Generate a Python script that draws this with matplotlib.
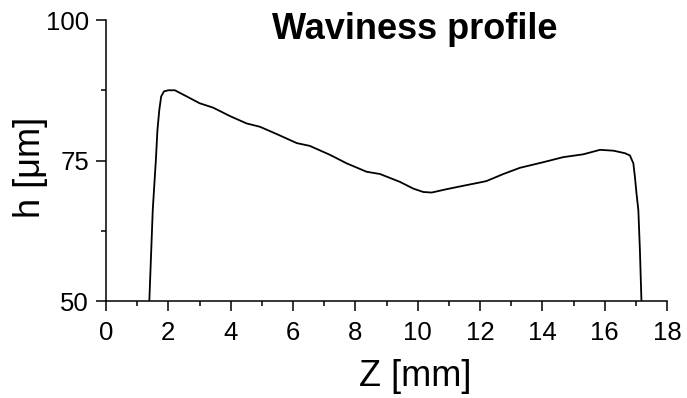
import numpy as np
import matplotlib.pyplot as plt
from matplotlib.ticker import MultipleLocator

plt.rcParams['font.family'] = ['Liberation Sans', 'DejaVu Sans']

# profile
z_mm = [1.39, 1.50, 1.60, 1.65, 1.71, 1.77, 1.86, 2.00, 2.21, 2.59, 3.00,
        3.44, 3.98, 4.51, 4.94, 5.48, 6.12, 6.54, 7.19, 7.72, 8.36, 8.79,
        9.43, 9.86, 10.18, 10.45, 10.93, 11.46, 12.00, 12.21, 12.75, 13.28,
        14.03, 14.67, 15.31, 15.85, 16.28, 16.65, 16.81, 16.92, 16.97, 17.02,
        17.08, 17.13, 17.18]
h_um = [50.0, 66.2, 75.1, 80.4, 84.0, 86.4, 87.3, 87.5, 87.5, 86.4, 85.2,
        84.4, 82.9, 81.6, 81.0, 79.7, 78.1, 77.6, 76.0, 74.5, 73.0, 72.6,
        71.2, 70.0, 69.4, 69.3, 69.9, 70.5, 71.1, 71.35, 72.6, 73.7,
        74.7, 75.6, 76.1, 76.9, 76.75, 76.3, 75.9, 74.5, 72.1, 69.2,
        66.2, 59.1, 50.0]

fig = plt.figure(figsize=(6.87, 3.98), dpi=100)
ax = fig.add_axes([0.1543, 0.2437, 0.8166, 0.706])

ax.plot(z_mm, h_um, color='black', linewidth=1.3,
        solid_joinstyle='round', solid_capstyle='round')

ax.set_xlim(0, 18)
ax.set_ylim(50, 100)
ax.xaxis.set_major_locator(MultipleLocator(2))
ax.xaxis.set_minor_locator(MultipleLocator(1))
ax.yaxis.set_major_locator(MultipleLocator(25))
ax.yaxis.set_minor_locator(MultipleLocator(12.5))

ax.spines['top'].set_visible(False)
ax.spines['right'].set_visible(False)
for s in ('left', 'bottom'):
    ax.spines[s].set_linewidth(1.1)

ax.tick_params(which='major', direction='out', length=7.2, width=1.1, labelsize=18.5)
ax.tick_params(axis='x', which='major', pad=7)
ax.tick_params(axis='y', which='major', pad=5)
ax.tick_params(which='minor', direction='out', length=3.6, width=1.1)

ax.set_xlabel('Z [mm]', fontsize=26)
ax.set_ylabel('h [μm]', fontsize=26)
ax.xaxis.set_label_coords(0.551, -0.267)
ax.yaxis.set_label_coords(-0.135, 0.477)
ax.xaxis.label.set_va('center')
ax.yaxis.label.set_va('center')

ax.text(0.551, 0.932, 'Waviness profile', transform=ax.transAxes,
        ha='center', va='baseline', fontsize=26, fontweight='bold')

fig.savefig('out.png', dpi=100)
